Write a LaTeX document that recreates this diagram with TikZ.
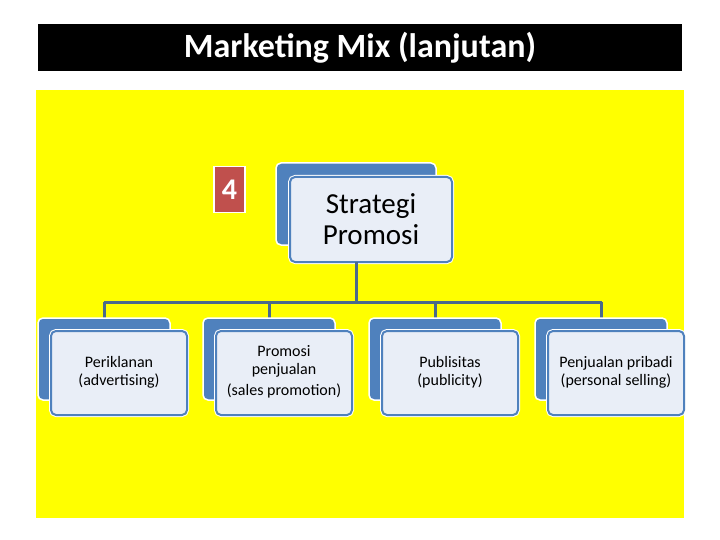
\documentclass[tikz,border=0pt]{standalone}
\usepackage{fontspec}
\setmainfont{Carlito}
\begin{document}
\begin{tikzpicture}[x=1pt,y=-1pt,
 back/.style={fill=blue1,draw=white,line width=1.5pt,rounded corners=5pt},
 lbl/.style={align=center,font=\fontsize{16}{18}\selectfont},
 conn/.style={draw=linec,line width=3pt}]
\definecolor{blue1}{HTML}{4F81BD}
\definecolor{pale}{HTML}{E9EEF7}
\definecolor{linec}{HTML}{4A6A8A}
\definecolor{redc}{HTML}{C0504D}
\definecolor{yel}{HTML}{FFFF00}
\useasboundingbox (0,0) rectangle (720,540);
\fill[white] (0,0) rectangle (720,540);
\fill[black] (38,24) rectangle (682,71);
\node[text=white,font=\fontsize{34}{38}\selectfont\bfseries] (title) at (360,48) {Marketing Mix (lanjutan)};
\fill[yel] (36,90) rectangle (684,518);
\node[fill=redc,draw=white,line width=1.5pt,minimum width=31pt,minimum height=46pt,text=white,font=\fontsize{30}{32}\selectfont\bfseries] (four) at (229.5,189.5) {4};
% top
\draw[back] (276,163) rectangle (436,245);
\draw[draw=white,line width=4pt,rounded corners=5pt] (290,177) rectangle (452,262);
\draw[fill=pale,draw=blue1,line width=2pt,rounded corners=5pt] (290,177) rectangle (452,262);
\node[lbl,font=\fontsize{29}{31}\selectfont] (top) at (371,219.5) {Strategi\\Promosi};
\coordinate (tb) at (356,262);
\coordinate (hl) at (104,302);
\coordinate (hr) at (602,302);
\draw[conn] (tb) -- (356,302);
\draw[conn] (hl) -- (hr);
\foreach \x/\name/\t in {38/a/{Periklanan\\(advertising)},203/b/{Promosi\\penjualan\\[3pt](sales promotion)},369/c/{Publisitas\\(publicity)},535/d/{Penjualan pribadi\\(personal selling)}}{
  \draw[conn] (\x+66,302) -- (\x+66,318);
  \draw[back] (\x,318) rectangle (\x+132,400);
  \draw[draw=white,line width=4pt,rounded corners=5pt] (\x+13,331) rectangle (\x+149,415);
  \draw[fill=pale,draw=blue1,line width=2pt,rounded corners=5pt] (\x+13,331) rectangle (\x+149,415);
  \node[lbl] (\name) at (\x+81,372) {\t};
}
\end{tikzpicture}
\end{document}
